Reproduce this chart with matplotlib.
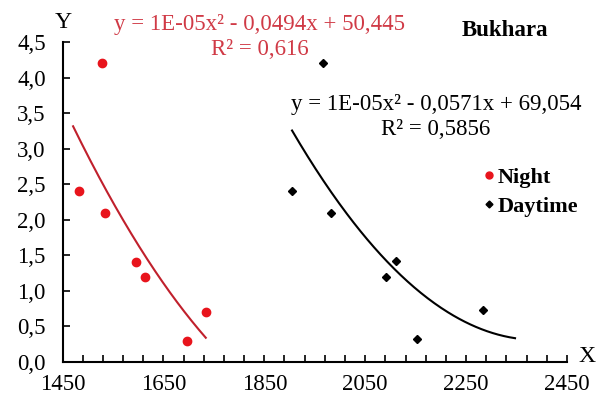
import matplotlib
matplotlib.use('Agg')
import matplotlib.pyplot as plt
from matplotlib.ticker import FixedLocator, MultipleLocator, FuncFormatter
from matplotlib.lines import Line2D
import numpy as np

plt.rcParams['font.family'] = ['Liberation Serif', 'DejaVu Serif']

# Night (red) points
night_x = [1483, 1528, 1534, 1596, 1614, 1697, 1734]
night_y = [2.4, 4.2, 2.1, 1.4, 1.2, 0.3, 0.7]

# Daytime (black) points
day_x = [1905, 1967, 1982, 2092, 2112, 2153, 2284]
day_y = [2.4, 4.2, 2.1, 1.2, 1.42, 0.32, 0.73]

# trendline backward / forward extension (like Excel forecast)
night_ext = [12, 0]
day_ext = [0, 63]

x_major = [1450, 1650, 1850, 2050, 2250, 2450]

night_eq = "y = 1E-05x² - 0,0494x + 50,445\nR² = 0,616"
day_eq = "y = 1E-05x² - 0,0571x + 69,054\nR² = 0,5856"

red_pt = '#e8141c'
red_line = '#c0202c'
red_txt = '#d03a46'

fig = plt.figure(figsize=(5.98, 3.98), dpi=100)
ax = fig.add_axes([62.5 / 598, 36 / 398, 504.5 / 598, 320 / 398])


def trend(xs, ys, ext):
    c = np.polyfit(xs, ys, 2)
    xx = np.linspace(min(xs) - ext[0], max(xs) + ext[1], 200)
    return xx, np.polyval(c, xx)


xx, yy = trend(night_x, night_y, night_ext)
ax.plot(xx, yy, color=red_line, lw=1.5)
xx, yy = trend(day_x, day_y, day_ext)
ax.plot(xx, yy, color='black', lw=1.5)

ax.plot(night_x, night_y, 'o', color=red_pt, ms=6, ls='none', clip_on=False)
ax.plot(day_x, day_y, 'D', color='black', ms=4, ls='none', clip_on=False)

ax.set_xlim(1450, 2450)
ax.set_ylim(0, 4.5)
ax.xaxis.set_major_locator(FixedLocator(x_major))
ax.xaxis.set_minor_locator(FixedLocator(np.arange(1450, 2451, 40)))
ax.yaxis.set_major_locator(MultipleLocator(0.5))
ax.yaxis.set_major_formatter(FuncFormatter(lambda v, p: f"{v:.1f}".replace('.', ',')))

for s in ['top', 'right']:
    ax.spines[s].set_visible(False)
for s in ['left', 'bottom']:
    ax.spines[s].set_linewidth(1.5)

ax.tick_params(axis='both', which='both', direction='in', length=5, width=1.2, labelsize=16.5)
ax.tick_params(axis='y', pad=12)
ax.tick_params(axis='x', pad=9)

fig.text(63 / 598, 1 - 23 / 398, "Y", fontsize=17, ha='center', va='center')
fig.text(587 / 598, 1 - 357 / 398, "X", fontsize=17, ha='center', va='center')

fig.text(260 / 598, 1 - 37 / 398, night_eq, fontsize=16.5, color=red_txt,
         ha='center', va='center', linespacing=1.2)
fig.text(436 / 598, 1 - 117 / 398, day_eq, fontsize=16.5, color='black',
         ha='center', va='center', linespacing=1.2)
fig.text(505 / 598, 1 - 30 / 398, "Bukhara", fontsize=16.5, fontweight='bold',
         ha='center', va='center')

handles = [Line2D([], [], marker='o', color=red_pt, ls='none', ms=5),
           Line2D([], [], marker='D', color='black', ls='none', ms=3.5)]
ax.legend(handles, ["Night", "Daytime"], loc='center left',
          bbox_to_anchor=(472 / 598, 1 - 192 / 398), bbox_transform=fig.transFigure,
          frameon=False, handlelength=0.5, handletextpad=0.15, labelspacing=0.4,
          prop={'weight': 'bold', 'size': 16}, borderpad=0)

fig.savefig('out.png', dpi=100)
